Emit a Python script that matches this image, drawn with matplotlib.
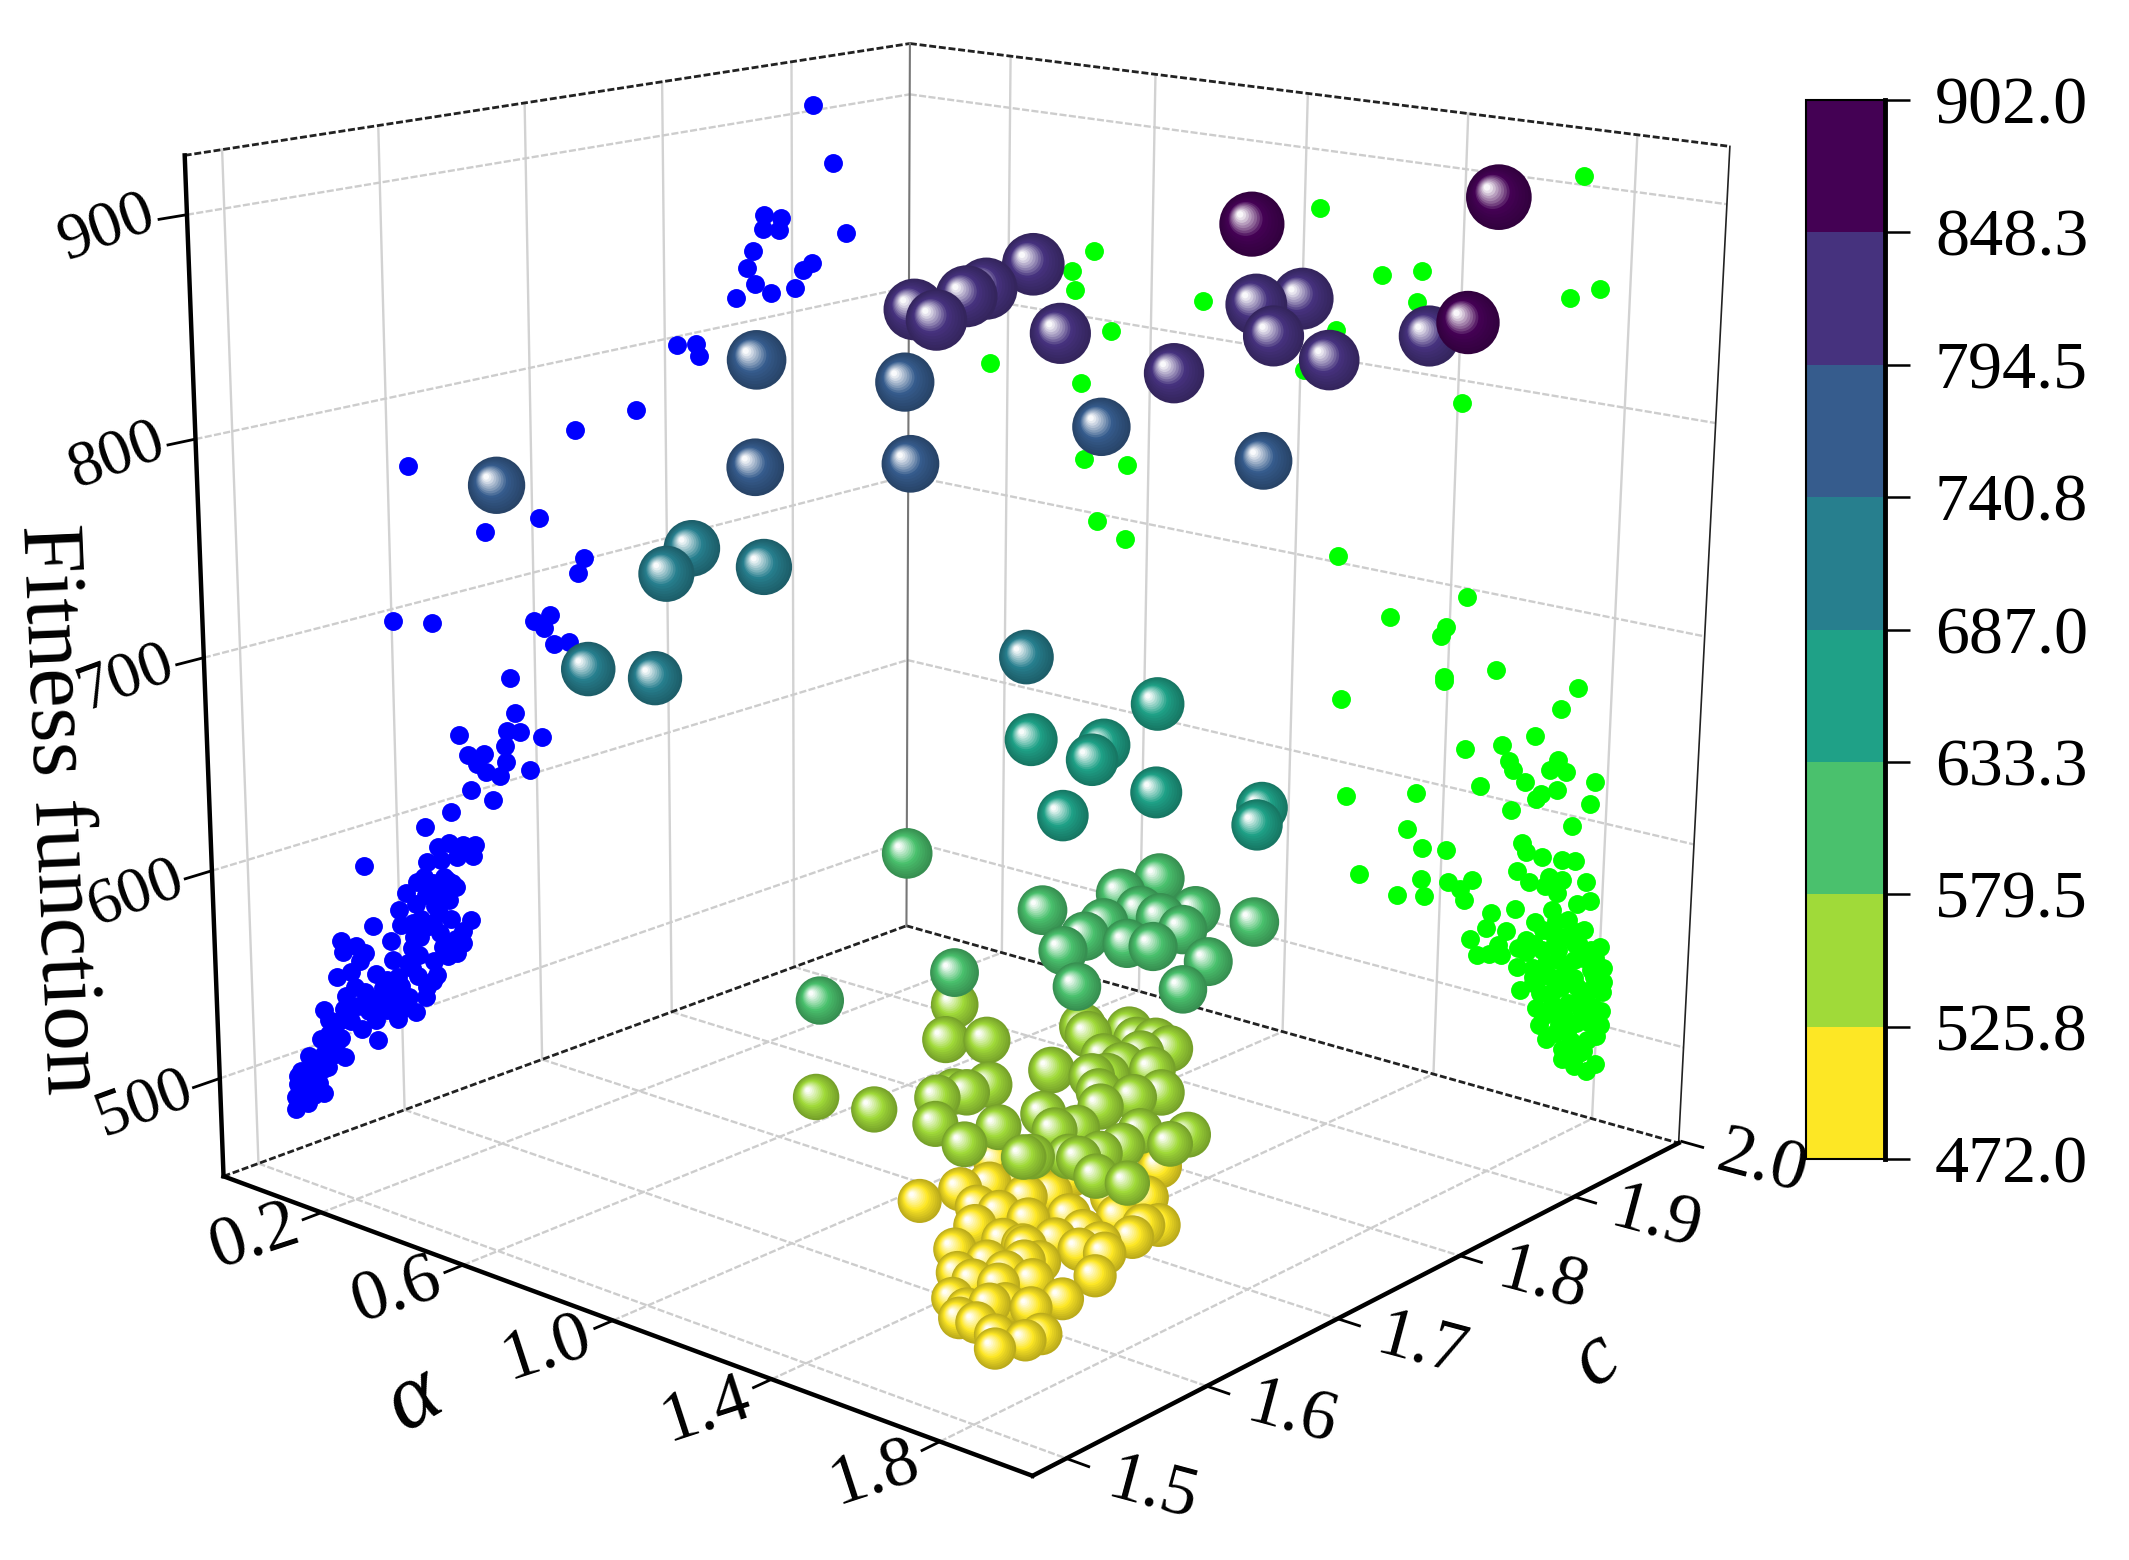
import numpy as np
import matplotlib
matplotlib.use('Agg')
import matplotlib.pyplot as plt
from matplotlib.cm import ScalarMappable
from matplotlib.collections import PathCollection
from matplotlib.colors import BoundaryNorm, ListedColormap, to_rgb
from matplotlib.path import Path
from matplotlib.transforms import Affine2D, IdentityTransform
from mpl_toolkits.mplot3d import proj3d

plt.rcParams['font.family'] = ['Liberation Serif', 'DejaVu Serif']

# spheres
sphere_alpha = [1.27, 1.58, 1.75, 0.56, 0.53, 0.51, 0.45, 0.50, 0.71, 0.94, 0.97, 1.03, 1.04, 1.16, 1.28,
                0.03, 0.32, -0.09, 0.27, 0.50, 0.72, 1.04, 0.42, 0.43,
                0.56, 0.48, 0.59, 1.10, 1.32, 1.18, 1.29, 1.29, 1.42, 1.31, 1.59, 1.60, 1.10, 1.38, 1.50, 1.47,
                1.60, 1.56, 1.49, 1.47, 1.55, 1.59, 1.69, 1.70,
                1.69, 1.54, 1.35, 1.20, 1.52, 1.61, 1.48, 1.30, 1.35, 1.41, 1.27, 1.37, 1.44, 1.45, 1.47, 1.49,
                1.48, 1.55, 1.57, 1.55, 1.52, 1.54, 1.59, 1.62,
                1.65, 1.68, 1.60, 1.64, 1.65, 1.69, 1.62, 1.64, 1.65, 1.71, 1.74, 1.68, 1.61, 1.65, 1.68, 1.77,
                1.84, 1.83, 1.77, 1.75, 1.73, 1.71, 1.66, 1.65,
                1.78, 1.83, 1.45, 1.49, 1.52, 1.49, 1.55, 1.62, 1.62, 1.73, 1.59, 1.54, 1.58, 1.57, 1.63, 1.63,
                1.67, 1.68, 1.75, 1.71, 1.76, 1.80, 1.82, 1.80,
                1.70, 1.75, 1.79, 1.81, 1.58, 1.64, 1.62, 1.65, 1.69, 1.69, 1.73, 1.65, 1.80, 1.71, 1.73, 1.77,
                1.69, 1.72, 1.76, 1.78, 1.81, 1.82,
                1.66, 1.67, 1.70, 1.68, 1.72, 1.66, 1.72, 1.76]
sphere_c = [1.861, 1.960, 1.874, 1.909, 1.880, 1.870, 1.846, 1.849, 1.886, 1.908, 1.967, 1.987, 1.959, 1.967, 2.013,
            1.839, 1.876, 1.675, 1.773, 1.829, 1.918, 1.953, 1.686, 1.665,
            1.701, 1.597, 1.615, 1.743, 1.777, 1.723, 1.745, 1.736, 1.745, 1.708, 1.773, 1.766, 1.655, 1.672, 1.723, 1.703,
            1.719, 1.705, 1.684, 1.660, 1.683, 1.690, 1.700, 1.732,
            1.681, 1.649, 1.617, 1.565, 1.702, 1.706, 1.673, 1.632, 1.611, 1.623, 1.543, 1.555, 1.579, 1.588, 1.591, 1.601,
            1.566, 1.566, 1.584, 1.628, 1.660, 1.658, 1.673, 1.669,
            1.674, 1.675, 1.651, 1.652, 1.663, 1.659, 1.636, 1.641, 1.632, 1.639, 1.650, 1.624, 1.604, 1.600, 1.607, 1.625,
            1.638, 1.628, 1.612, 1.602, 1.593, 1.592, 1.581, 1.578,
            1.590, 1.597, 1.564, 1.581, 1.593, 1.606, 1.606, 1.607, 1.621, 1.653, 1.598, 1.578, 1.582, 1.568, 1.570, 1.588,
            1.574, 1.602, 1.616, 1.624, 1.634, 1.619, 1.624, 1.611,
            1.586, 1.588, 1.594, 1.581, 1.551, 1.556, 1.541, 1.543, 1.549, 1.567, 1.561, 1.529, 1.561, 1.537, 1.542, 1.548,
            1.522, 1.525, 1.526, 1.520, 1.532, 1.540,
            1.545, 1.560, 1.575, 1.530, 1.540, 1.575, 1.600, 1.600]
sphere_f = [887, 896, 855, 842, 833, 830, 825, 821, 816, 801, 827, 829, 815, 806, 815,
            788, 781, 747, 753, 754, 766, 755, 734, 726,
            728, 696, 693, 700, 681, 669, 667, 662, 651, 643, 646, 640, 627, 611, 620, 616,
            611, 609, 608, 600, 602, 601, 597, 608,
            589, 590, 594, 586, 611, 606, 604, 573, 565, 565, 552, 549, 552, 553, 553, 555,
            546, 541, 545, 558, 568, 566, 567, 565,
            565, 563, 561, 559, 562, 558, 557, 557, 553, 552, 553, 550, 548, 544, 545, 544,
            543, 541, 541, 539, 538, 538, 538, 538,
            534, 532, 510, 513, 514, 519, 516, 512, 516, 518, 511, 509, 508, 505, 502, 506,
            500, 507, 507, 511, 511, 505, 505, 502,
            502, 500, 499, 494, 500, 497, 495, 493, 492, 497, 493, 489, 489, 488, 488, 487,
            485, 484, 481, 478, 480, 481,
            487, 493, 495, 486, 484, 500, 503, 500]

# dots on the left wall (c, fitness)
blue_c = [1.917, 1.933, 1.944, 1.878, 1.891, 1.877, 1.890, 1.869, 1.864, 1.916, 1.909, 1.902, 1.883, 1.870, 1.855,
          1.809, 1.824, 1.826, 1.778, 1.732, 1.614, 1.705, 1.666, 1.737, 1.733, 1.700, 1.712, 1.707,
          1.601, 1.628, 1.682, 1.714, 1.725, 1.685, 1.679, 1.688, 1.704, 1.645, 1.677, 1.651, 1.662, 1.678,
          1.657, 1.663, 1.673, 1.695, 1.652, 1.668, 1.638, 1.619, 1.636, 1.646, 1.654, 1.653, 1.630, 1.641,
          1.577, 1.618, 1.613, 1.624, 1.634, 1.637, 1.619, 1.631, 1.625, 1.623, 1.600, 1.582, 1.609, 1.650,
          1.644, 1.601, 1.614, 1.594, 1.560, 1.570, 1.561, 1.576, 1.572, 1.639, 1.630, 1.633, 1.644, 1.608,
          1.613, 1.595, 1.608, 1.623, 1.583, 1.598, 1.625, 1.618, 1.568, 1.587, 1.595, 1.562, 1.605, 1.617,
          1.581, 1.593, 1.547, 1.560, 1.577, 1.610, 1.550, 1.582, 1.597, 1.557, 1.583, 1.544, 1.558, 1.560,
          1.536, 1.546, 1.530, 1.545, 1.538, 1.528, 1.545, 1.535, 1.526, 1.531, 1.526,
          1.530, 1.535, 1.540, 1.528, 1.534, 1.538, 1.542, 1.548, 1.552, 1.555, 1.550, 1.565, 1.570, 1.575,
          1.585, 1.590, 1.600, 1.605, 1.610, 1.618, 1.628, 1.635, 1.640, 1.612, 1.605, 1.620, 1.628, 1.632,
          1.615, 1.628, 1.636, 1.640, 1.622, 1.612, 1.566, 1.556, 1.590, 1.600, 1.548, 1.572]
blue_f = [903, 872, 835, 852, 849, 845, 843, 835, 827, 823, 820, 812, 812, 818, 813,
          796, 794, 788, 768, 765, 766, 726, 726, 701, 694, 676, 677, 671,
          694, 688, 651, 662, 661, 633, 625, 623, 617, 630, 618, 619, 617, 610,
          613, 608, 604, 602, 601, 593, 593, 590, 578, 575, 573, 568, 571, 570,
          580, 565, 564, 561, 560, 558, 556, 554, 549, 541, 553, 549, 544, 536,
          532, 545, 536, 539, 547, 542, 541, 537, 534, 529, 527, 522, 526, 532,
          527, 529, 522, 522, 525, 520, 514, 510, 522, 517, 514, 519, 508, 505,
          513, 509, 516, 513, 508, 499, 510, 502, 499, 508, 492, 502, 499, 489,
          496, 494, 490, 487, 485, 484, 475, 479, 478, 475, 472,
          482, 487, 492, 488, 473, 476, 481, 487, 492, 498, 503, 506, 512, 518,
          510, 520, 515, 525, 537, 540, 545, 550, 555, 553, 560, 572, 578, 562,
          545, 535, 540, 522, 512, 517, 530, 530, 505, 503, 495, 500]

# dots on the back wall (alpha, fitness)
green_alpha = [1.68, 1.04, 0.44, 0.38, 0.39, 1.20, 1.30, 1.29, 0.74, 1.73, 1.66, 0.49, 1.09, 0.15, 0.41, 1.01, 1.41,
               0.42, 0.54, 0.46, 0.54, 1.11, 1.44, 1.25, 1.39, 1.38, 1.39, 1.52, 1.39, 1.13, 1.72, 1.68, 1.62,
               1.45, 1.54, 1.56, 1.66, 1.68, 1.70, 1.57, 1.60, 1.77, 1.49, 1.68, 1.64, 1.63, 1.76, 1.15, 1.33,
               1.57, 1.72, 1.31, 1.35, 1.41, 1.60, 1.61, 1.65, 1.70, 1.73, 1.19, 1.35, 1.36, 1.29, 1.42, 1.45,
               1.46, 1.48, 1.59, 1.62, 1.67, 1.66, 1.69, 1.70, 1.76, 1.74, 1.77, 1.59, 1.68, 1.69, 1.64, 1.66,
               1.53, 1.52, 1.57, 1.48, 1.76, 1.62, 1.60, 1.55, 1.50, 1.53, 1.56, 1.66, 1.69, 1.71, 1.74, 1.80,
               1.78, 1.81, 1.60, 1.64, 1.70, 1.74, 1.78, 1.71, 1.65, 1.61, 1.81, 1.69, 1.75, 1.78, 1.65, 1.69,
               1.76, 1.81, 1.66, 1.71, 1.80, 1.68, 1.73, 1.78, 1.72, 1.74, 1.75, 1.80,
               1.64, 1.67, 1.70, 1.72, 1.74, 1.76, 1.79, 1.68, 1.71, 1.73, 1.76, 1.79, 1.69, 1.72, 1.75, 1.78,
               1.67, 1.70, 1.74, 1.77, 1.72, 1.76, 1.81, 1.79, 1.74, 1.72, 1.68, 1.64, 1.62, 1.66, 1.81, 1.78,
               1.70, 1.64, 1.75]
green_f = [904, 872, 834, 822, 813, 844, 849, 834, 818, 853, 847, 795, 814, 768, 766, 792, 789,
           727, 728, 696, 690, 703, 696, 678, 679, 674, 654, 663, 652, 632, 663, 651, 635,
           621, 627, 620, 620, 626, 621, 616, 611, 619, 604, 611, 607, 604, 608, 583, 593,
           596, 595, 574, 566, 568, 581, 577, 576, 577, 578, 545, 550, 542, 539, 552, 550,
           545, 556, 566, 562, 567, 562, 560, 567, 569, 557, 560, 547, 551, 546, 543, 540,
           542, 534, 535, 526, 545, 533, 528, 527, 519, 521, 522, 530, 535, 539, 537, 539,
           536, 529, 518, 520, 527, 529, 526, 519, 514, 507, 517, 511, 516, 516, 500, 504,
           505, 507, 492, 495, 494, 486, 492, 491, 483, 480, 476, 480,
           512, 524, 532, 525, 520, 531, 523, 518, 514, 507, 512, 508, 503, 500, 498, 500,
           497, 490, 488, 485, 478, 483, 522, 533, 543, 548, 540, 532, 527, 508, 500, 475,
           499, 515, 537]

alpha_ticks = [0.2, 0.6, 1.0, 1.4, 1.8]
c_ticks = [1.5, 1.6, 1.7, 1.8, 1.9, 2.0]
f_ticks = [500, 600, 700, 800, 900]
bar_edges = [472.0, 525.8, 579.5, 633.3, 687.0, 740.8, 794.5, 848.3, 902.0]
bar_colors = ['#fde725', '#a0da39', '#4ac16d', '#1fa187', '#277f8e', '#365c8d', '#46327e', '#440154']

a0, a1 = -0.09, 2.01
c0, c1 = 1.477, 1.997
z0, z1 = 452, 926

W, H = 2129, 1560
fig = plt.figure(figsize=(W / 100, H / 100), dpi=100)
side = 1777.9
ax = fig.add_axes([50.6 / W, -23.3 / H, side / W, side / H], projection='3d', proj_type='persp',
                  focal_length=0.4848, computed_zorder=False)
ax.set_xlim(a0, a1)
ax.set_ylim(c0, c1)
ax.set_zlim(z0, z1)
ax.set_box_aspect((1.0192, 1.0133, 1))
ax.view_init(15.545, -49.832, -0.418)
ax.set_axis_off()
M = ax.get_proj()

# clear layer above the 3d box: spheres and rotated labels
top = fig.add_axes([0, 0, 1, 1])
top.axis('off')


def label3d(a, c, f, s, **kw):
    x, y, _ = proj3d.proj_transform(a, c, f, M)
    top.text(x, y, s, transform=ax.transData, ha='center', va='center', **kw)


grid_dash = dict(color='#cdcdcd', lw=1.7, ls=(0, (3, 1)), zorder=1)
grid_wall = dict(color='#d2d2d2', lw=1.7, zorder=1)
dash_dark = dict(color='#222222', lw=2.0, ls=(0, (2.5, 1)), zorder=1.2)

for a in alpha_ticks:
    ax.plot([a, a], [c0, c1], [z0, z0], **grid_dash)
    ax.plot([a, a], [c1, c1], [z0, z1], **grid_wall)
for c in c_ticks[:-1]:
    ax.plot([a0, a1], [c, c], [z0, z0], **grid_dash)
    ax.plot([a0, a0], [c, c], [z0, z1], **grid_wall)
for f in f_ticks:
    ax.plot([a0, a0], [c0, c1], [f, f], **grid_dash)
    ax.plot([a0, a1], [c1, c1], [f, f], **grid_dash)

# box edges
ax.plot([a0, a0], [c0, c1], [z0, z0], **dash_dark)
ax.plot([a0, a1], [c1, c1], [z0, z0], **dash_dark)
ax.plot([a0, a0], [c0, c1], [z1, z1], **dash_dark)
ax.plot([a0, a1], [c1, c1], [z1, z1], **dash_dark)
ax.plot([a0, a0], [c1, c1], [z0, z1], color='#777777', lw=1.5, zorder=1.2)
ax.plot([a1, a1], [c1, c1], [z0, z1], color='#222222', lw=1.2, zorder=1.2)
ax.plot([a0, a0], [c0, c0], [z0, z1], color='k', lw=3.2, zorder=1.3, solid_capstyle='projecting')
ax.plot([a0, a1], [c0, c0], [z0, z0], color='k', lw=3.2, zorder=1.3, solid_capstyle='projecting')
ax.plot([a1, a1], [c0, c1], [z0, z0], color='k', lw=3.2, zorder=1.3, solid_capstyle='projecting')

# ticks and their labels
for a in alpha_ticks:
    ax.plot([a, a], [c0, c0 - 0.012], [z0, z0], color='k', lw=2, zorder=1.3)
    label3d(a, c0 - 0.043, z0, '%.1f' % a, fontsize=52, rotation=18)
for c in c_ticks:
    ax.plot([a1, a1 + 0.05], [c, c], [z0, z0], color='k', lw=2, zorder=1.3)
    label3d(a1 + 0.19, c, z0, '%.1f' % c, fontsize=52, rotation=-15)
for f in f_ticks:
    ax.plot([a0, a0], [c0, c0 - 0.017], [f, f], color='k', lw=2, zorder=1.3)
    label3d(a0, c0 - 0.048, f, '%d' % f, fontsize=47, rotation=20)

fig.text(305 / 1568, 1 - 1031 / 1149, 'α', fontsize=68, style='italic', rotation=30, ha='center', va='center')
fig.text(1176 / 1568, 1 - 1002 / 1149, 'c', fontsize=62, style='italic', rotation=35, ha='center', va='center')
fig.text(42 / 1568, 1 - 596 / 1149, 'Fitness function', fontsize=64, rotation=-87.5, ha='center', va='center')

ax.scatter(np.full(len(blue_c), a0), blue_c, blue_f, c='#0000ff', s=185, linewidths=0, depthshade=False, zorder=2)
ax.scatter(green_alpha, np.full(len(green_f), c1), green_f, c='#00ff00', s=185, linewidths=0, depthshade=False, zorder=2)

# spheres: painted back to front as stacks of shifted discs
sa = np.array(sphere_alpha)
sc = np.array(sphere_c)
sf = np.array(sphere_f, float)
xp, yp, depth = proj3d.proj_transform(sa, sc, sf, M)
order = np.argsort(depth)[::-1]

shade = [(1.00, 0.74, 0), (0.93, 0.78, 0), (0.86, 0.82, 0), (0.79, 0.86, 0), (0.72, 0.90, 0), (0.65, 0.95, 0),
         (0.58, 1.00, 0), (0.52, 1.00, 0.12), (0.46, 1.00, 0.25), (0.40, 1.00, 0.38), (0.34, 1.00, 0.50),
         (0.28, 1.00, 0.62), (0.22, 1.00, 0.75), (0.16, 1.00, 0.87), (0.10, 1.00, 0.97)]
paths = []
for rt, dark, white in shade:
    paths.append(Path.unit_circle().transformed(
        Affine2D().scale(rt).translate(-0.4 * (1 - rt), 0.33 * (1 - rt))))

norm = BoundaryNorm(bar_edges, len(bar_colors))
offs, sizes, faces = [], [], []
for i in order:
    base = np.array(to_rgb(bar_colors[int(norm(sf[i]))]))
    r_pt = (21 + 12 * (sf[i] - 472) / 430) * 0.72
    for rt, dark, white in shade:
        offs.append((xp[i], yp[i]))
        sizes.append(r_pt ** 2)
        faces.append(tuple(base * dark * (1 - white) + white))

balls = PathCollection(paths, sizes=sizes, offsets=offs, offset_transform=ax.transData,
                       facecolors=faces, edgecolors='none', linewidths=0)
balls.set_transform(IdentityTransform())
top.add_collection(balls, autolim=False)

# colour bar
cax = fig.add_axes([1806 / W, 1 - 1159 / H, (1885 - 1806) / W, (1159 - 100) / H])
cmap = ListedColormap(bar_colors)
cb = fig.colorbar(ScalarMappable(norm=norm, cmap=cmap), cax=cax, ticks=bar_edges, format='%.1f', drawedges=False)
cb.outline.set_linewidth(1.5)
cax.tick_params(length=18, width=1.8, pad=18, labelsize=49)
cax.plot([1, 1], [0, 1], transform=cax.transAxes, color='k', lw=3.5, clip_on=False, zorder=5)

fig.savefig('out.png', dpi=100)
